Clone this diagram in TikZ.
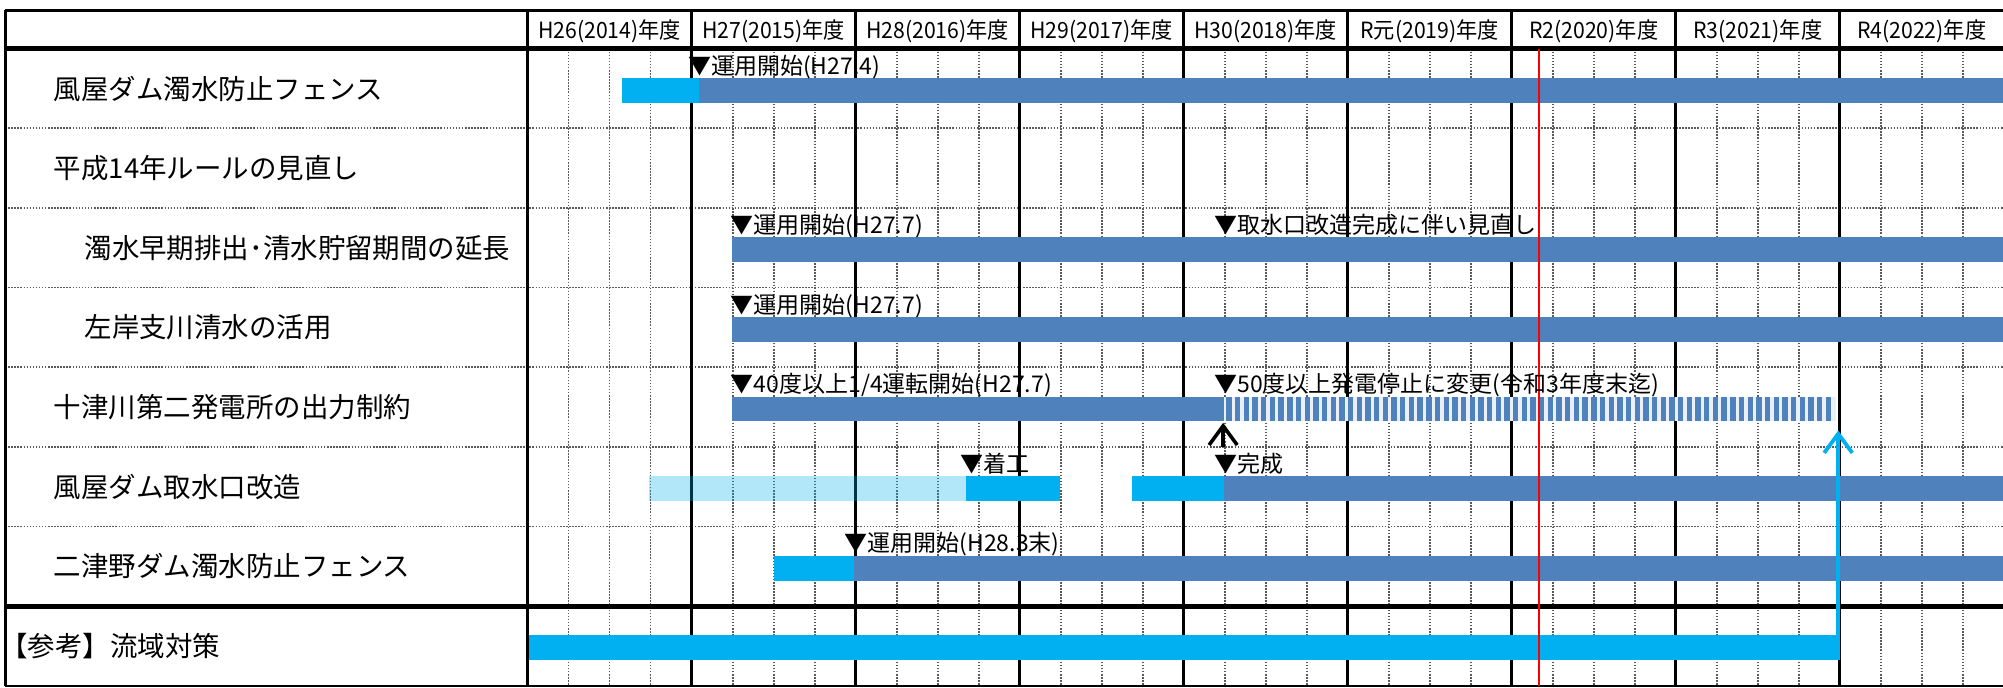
\documentclass[tikz,border=0pt]{standalone}
\usepackage{fontspec}
\setmainfont{Noto Sans CJK JP}
\newfontfamily\hdrfont[FakeStretch=0.95]{Noto Sans CJK JP}
\usetikzlibrary{arrows.meta}
\definecolor{barblue}{HTML}{4F81BD}
\definecolor{barcyan}{HTML}{00B0F0}
\definecolor{gridgray}{HTML}{5A5A5A}
\definecolor{stripebg}{HTML}{EAF0F8}
\definecolor{nowred}{HTML}{FF0000}
\begin{document}
\begin{tikzpicture}[x=1pt,y=-1pt,
  qline/.style={gridgray,line width=1.4pt,dash pattern=on 1.2pt off 1.2pt},
  yline/.style={black,line width=2pt},
  boldrule/.style={black,line width=4pt},
  framerule/.style={black,line width=2.2pt},
  hdr/.style={font=\hdrfont\fontsize{17.5}{17.5}\selectfont,inner sep=0pt,anchor=base},
  lbl/.style={font=\fontsize{21.5}{21.5}\selectfont,inner sep=0pt,anchor=base west},
  ann/.style={font=\fontsize{18}{18}\selectfont,inner sep=0pt,anchor=base west},
  bluebar/.style={fill=barblue},
  cyanbar/.style={fill=barcyan},
  lightbar/.style={fill=barcyan,fill opacity=0.3},
  arrowblk/.style={black,line width=2.8pt,-{Straight Barb[length=15pt,width=22pt]}},
  arrowcyan/.style={barcyan,line width=3pt,-{Straight Barb[length=15pt,width=22pt]}},
]
\useasboundingbox (0,0) rectangle (1568,538);
\fill[white] (0,0) rectangle (1568,538);

% quarter lines
\foreach \k in {0,...,8}{
  \foreach \q in {1,2,3}{
    \draw[qline] ({413+128.4*\k+32.1*\q},38) -- ({413+128.4*\k+32.1*\q},537);
  }
}
% row separators (dotted)
\foreach \r in {100.35,162.7,225.05,287.4,349.75,412.1}{
  \draw[qline] (4,\r) -- (1568,\r);
}
% year lines
\foreach \k in {1,...,8}{
  \draw[yline] ({413+128.4*\k},8) -- ({413+128.4*\k},537);
}

% bars
% row 1
\fill[cyanbar] (487,61) rectangle (547,80.5);
\fill[bluebar] (547,61) rectangle (1568,80.5);
% row 3
\fill[bluebar] (573,185.7) rectangle (1568,205.2);
% row 4
\fill[bluebar] (573,248.05) rectangle (1568,267.55);
% row 5
\fill[bluebar] (573,310.4) rectangle (958,329.9);
\fill[stripebg] (958,310.4) rectangle (1437,329.9);
\foreach \i in {0,...,69}{
  \fill[barblue] ({960+6.8*\i},310.4) rectangle ({964.2+6.8*\i},329.9);
}
% row 6
\fill[lightbar] (508,372.75) rectangle (756,392.25);
\fill[cyanbar] (756,372.75) rectangle (830,392.25);
\fill[cyanbar] (886,372.75) rectangle (958,392.25);
\fill[bluebar] (958,372.75) rectangle (1568,392.25);
% row 7
\fill[cyanbar] (606,435.1) rectangle (668.6,454.6);
\fill[bluebar] (668.6,435.1) rectangle (1568,454.6);
% row 8
\fill[cyanbar] (413,497.45) rectangle (1440,516.95);

% frame and bold rules
\draw[black,line width=2.6pt] (4,8) -- (1568,8);
\draw[boldrule] (4,38) -- (1568,38);
\draw[boldrule] (4,474.45) -- (1568,474.45);
\draw[framerule] (4,537) -- (1568,537);
\draw[framerule] (4,8) -- (4,537);
\draw[black,line width=3pt] (413,8) -- (413,537);

% current date line
\draw[nowred,line width=1.6pt] (1205,38) -- (1205,537);

% arrows
\coordinate (blkTail) at (957.5,350);
\coordinate (blkTip) at (957.5,331);
\draw[arrowblk] (blkTail) -- (blkTip);
\coordinate (cyTail) at (1439,497.45);
\coordinate (cyTip) at (1439,337);
\draw[arrowcyan] (cyTail) -- (cyTip);

% header
\node[hdr] (h1) at (477.2,29.8) {H26(2014)年度};
\node[hdr] (h2) at (605.6,29.8) {H27(2015)年度};
\node[hdr] (h3) at (734.0,29.8) {H28(2016)年度};
\node[hdr] (h4) at (862.4,29.8) {H29(2017)年度};
\node[hdr] (h5) at (990.8,29.8) {H30(2018)年度};
\node[hdr] (h6) at (1119.2,29.8) {R元(2019)年度};
\node[hdr] (h7) at (1247.6,29.8) {R2(2020)年度};
\node[hdr] (h8) at (1376.0,29.8) {R3(2021)年度};
\node[hdr] (h9) at (1504.4,29.8) {R4(2022)年度};

% row labels
\node[lbl] (l1) at (42,77.5) {風屋ダム濁水防止フェンス};
\node[lbl] (l2) at (42,139.85) {平成14年ルールの見直し};
\node[lbl] (l3) at (66,202.2) {濁水早期排出･清水貯留期間の延長};
\node[lbl] (l4) at (66,264.55) {左岸支川清水の活用};
\node[lbl] (l5) at (42,326.9) {十津川第二発電所の出力制約};
\node[lbl] (l6) at (42,389.25) {風屋ダム取水口改造};
\node[lbl] (l7) at (42,451.6) {二津野ダム濁水防止フェンス};
\node[lbl] (l8) at (0,514) {【参考】流域対策};

% annotations
\node[ann] (a1) at (538.5,58) {▼運用開始(H27.4)};
\node[ann] (a3a) at (572,182.7) {▼運用開始(H27.7)};
\node[ann] (a3b) at (950.5,182.7) {▼取水口改造完成に伴い見直し};
\node[ann] (a4) at (572,245.05) {▼運用開始(H27.7)};
\node[ann] (a5a) at (572,307.4) {▼40度以上1/4運転開始(H27.7)};
\node[ann] (a5b) at (950.5,307.4) {▼50度以上発電停止に変更(令和3年度末迄)};
\node[ann] (a6a) at (752,369.75) {▼着工};
\node[ann] (a6b) at (950.5,369.75) {▼完成};
\node[ann] (a7) at (661,432.1) {▼運用開始(H28.3末)};
\end{tikzpicture}
\end{document}
